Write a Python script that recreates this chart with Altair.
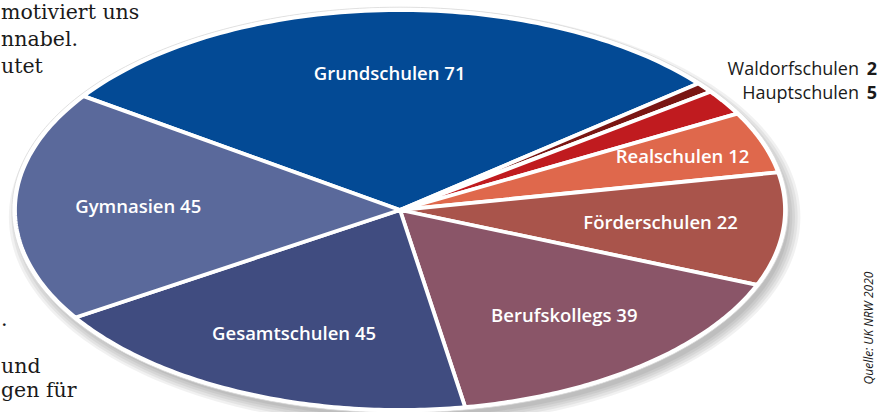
import math
import altair as alt
import pandas as pd

# ---------------- data ----------------
categories = ["Grundschulen", "Waldorfschulen", "Hauptschulen", "Realschulen",
              "Förderschulen", "Berufskollegs", "Gesamtschulen", "Gymnasien"]
values = [71, 2, 5, 12, 22, 39, 45, 45]
colors = ["#034a95", "#7a1613", "#c01b1f", "#df684c",
          "#a9544b", "#8a5568", "#404c80", "#5a699b"]
source_note = "Quelle: UK NRW 2020"
bg_text_top = ["motiviert uns", "nnabel.", "utet"]
bg_text_bottom = [".", "und", "gen für"]

df = pd.DataFrame({"category": categories, "value": values,
                   "idx": list(range(len(categories)))})

# ---------------- geometry (style constants) ----------------
W, H = 891, 412
CX, CY, RX, RY = 400, 210, 385, 200       # pixel centre and radii of the ellipse
START = math.radians(145.3)               # math angle where the first slice starts
N = 90                                     # arc points per slice

xdom = [-CX / RX, (W - CX) / RX]
ydom = [-(H - CY) / RY, CY / RY]
xs = alt.Scale(domain=xdom, nice=False, zero=False)
ys = alt.Scale(domain=ydom, nice=False, zero=False)

base = alt.Chart(df)

# cumulative angles
angles = (
    base.transform_window(cum="sum(value)", sort=[alt.SortField("idx")], frame=[None, 0])
    .transform_joinaggregate(total="sum(value)")
    .transform_calculate(
        a0=f"{START} - 2*PI*(datum.cum - datum.value)/datum.total",
        a1=f"{START} - 2*PI*datum.cum/datum.total",
    )
)

# shadow rings
shadow = (
    base.transform_aggregate(total="sum(value)")
    .transform_calculate(pts="sequence(0, 241)", rings="[0, 1, 2, 3, 4]")
    .transform_flatten(["pts"], as_=["k"])
    .transform_flatten(["rings"], as_=["ring"])
    .transform_calculate(
        t="2*PI*datum.k/240",
        px="cos(datum.t)*(1 + 0.007*datum.ring) + 0.012",
        py="sin(datum.t)*(1 + 0.012*datum.ring) - 0.035",
    )
    .mark_line(filled=True, color="#000000", opacity=0.055, strokeWidth=0)
    .encode(
        x=alt.X("px:Q", scale=xs, axis=None),
        y=alt.Y("py:Q", scale=ys, axis=None),
        detail="ring:N",
        order=alt.Order("k:Q"),
    )
)

# white rim
rim = (
    base.transform_aggregate(total="sum(value)")
    .transform_calculate(pts="sequence(0, 241)")
    .transform_flatten(["pts"], as_=["k"])
    .transform_calculate(
        t="2*PI*datum.k/240",
        px="cos(datum.t)*1.008",
        py="sin(datum.t)*1.014",
    )
    .mark_line(filled=True, color="#ffffff", stroke="#d8d8d8", strokeWidth=0.8)
    .encode(
        x=alt.X("px:Q", scale=xs, axis=None),
        y=alt.Y("py:Q", scale=ys, axis=None),
        order=alt.Order("k:Q"),
    )
)

slices = (
    angles.transform_calculate(pts=f"sequence(0, {N + 2})")
    .transform_flatten(["pts"], as_=["k"])
    .transform_calculate(
        ang=f"datum.a0 + (datum.a1 - datum.a0)*(datum.k - 1)/{N - 1}",
        px=f"(datum.k == 0 || datum.k == {N + 1}) ? 0 : cos(datum.ang)",
        py=f"(datum.k == 0 || datum.k == {N + 1}) ? 0 : sin(datum.ang)",
    )
    .mark_line(filled=True, stroke="#ffffff", strokeWidth=3.8, strokeJoin="round")
    .encode(
        x=alt.X("px:Q", scale=xs, axis=None),
        y=alt.Y("py:Q", scale=ys, axis=None),
        color=alt.Color("category:N", scale=alt.Scale(domain=categories, range=colors),
                        legend=None),
        order=alt.Order("k:Q"),
    )
)

inside_labels = (
    angles.transform_filter("datum.value >= 10")
    .transform_calculate(
        mid="(datum.a0 + datum.a1)/2",
        r="datum.value < 15 ? 0.78 : 0.68",
        lx="datum.r*cos(datum.mid)",
        ly="datum.r*sin(datum.mid)",
        label="datum.category + ' ' + datum.value",
    )
    .mark_text(font="Open Sans", fontWeight=600, fontSize=18.5, color="#ffffff",
               align="center", baseline="middle")
    .encode(
        x=alt.X("lx:Q", scale=xs, axis=None),
        y=alt.Y("ly:Q", scale=ys, axis=None),
        text="label:N",
    )
)

outside = (
    base.transform_filter("datum.value < 10")
    .transform_window(rk="row_number()", sort=[alt.SortField("idx")])
    .transform_calculate(py="51 + 24*datum.rk")
)
outside_names = outside.mark_text(
    font="Open Sans", fontSize=18, color="#1a1a1a", align="right", baseline="alphabetic"
).encode(x=alt.value(859), y=alt.Y("py:Q", scale=None), text="category:N")
outside_vals = outside.mark_text(
    font="Open Sans", fontWeight="bold", fontSize=18, color="#1a1a1a", align="right",
    baseline="alphabetic"
).encode(x=alt.value(877), y=alt.Y("py:Q", scale=None), text="value:Q")

bg_top = (
    alt.Chart(pd.DataFrame({"t": bg_text_top, "line": [0, 1, 2]}))
    .transform_calculate(py="19 + 27*datum.line")
    .mark_text(font="DejaVu Serif", fontSize=20.5, color="#1a1a1a", align="left",
               baseline="alphabetic")
    .encode(x=alt.value(1), y=alt.Y("py:Q", scale=None), text="t:N")
)
bg_bottom = (
    alt.Chart(pd.DataFrame({"t": bg_text_bottom, "line": [0, 2, 3]}))
    .transform_calculate(py="326 + 23.5*datum.line")
    .mark_text(font="DejaVu Serif", fontSize=20.5, color="#1a1a1a", align="left",
               baseline="alphabetic")
    .encode(x=alt.value(1), y=alt.Y("py:Q", scale=None), text="t:N")
)

source = (
    alt.Chart(pd.DataFrame({"t": [source_note]}))
    .mark_text(font="Open Sans", fontStyle="italic", fontSize=12, color="#1a1a1a",
               angle=270, align="center", baseline="middle")
    .encode(x=alt.value(869), y=alt.value(328), text="t:N")
)

chart = (
    alt.layer(shadow, rim, slices, inside_labels, outside_names, outside_vals,
              bg_top, bg_bottom, source)
    .properties(width=W, height=H, autosize=alt.AutoSizeParams(type="none"),
                padding=0, background="#ffffff")
    .configure_view(stroke=None)
)

chart.save("out.html", embed_options={"renderer": "svg", "actions": False})
